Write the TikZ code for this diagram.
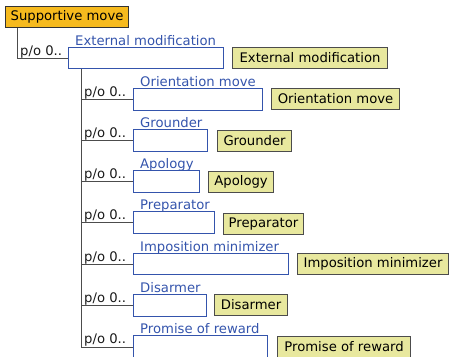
\documentclass[tikz,border=0pt]{standalone}
\usepackage{fontspec}
\setmainfont{DejaVu Sans}
\definecolor{rootfill}{RGB}{246,186,30}
\definecolor{rolec}{RGB}{52,84,172}
\definecolor{tagfill}{RGB}{232,232,158}
\begin{document}
\begin{tikzpicture}[x=1pt,y=-1pt,
  font=\fontsize{13.2}{15}\selectfont,
  rootbox/.style={draw=black!80, fill=rootfill, line width=1.1pt, anchor=north west, inner sep=0pt},
  slot/.style={draw=rolec, fill=white, line width=1.1pt, anchor=north west, inner sep=0pt},
  tagbox/.style={draw=black!70, fill=tagfill, line width=1.1pt, anchor=north west, inner sep=0pt},
  role/.style={text=rolec, anchor=base west, inner sep=0pt},
  card/.style={text=black!90, anchor=base west, inner sep=0pt},
  tree/.style={draw=black!70, line width=1pt}]
\useasboundingbox (0,0) rectangle (449,356);
% root
\node[rootbox, minimum width=123pt, minimum height=21pt] (root) at (5,6) {Supportive move};
% external modification
\node[slot, minimum width=155pt, minimum height=21pt] (ext) at (68,47) {};
\node[tagbox, minimum width=155pt, minimum height=21pt] (exttag) at (232,47) {External modification};
\node[role] (extrole) at (75,45) {External modification};
\node[card] (extcard) at (20,55) {p/o 0..};
\draw[tree] ([xshift=12pt]root.south west) |- (ext.west);
\coordinate (trunk) at ([xshift=13pt]ext.south west);
% children
\newcommand{\childrow}[8]{%
  \node[slot, minimum width=#3pt, minimum height=#4pt] (#1) at (133,#2) {};
  \node[tagbox, minimum width=#6pt, minimum height=21pt] (#1tag) at (#5,#7) {#8};
  \node[role] (#1role) at (140,#2-2) {#8};
  \node[card] (#1card) at (84,#2+8) {p/o 0..};
  \draw[tree] (trunk |- #1.west) -- (#1.west);
}
\childrow{orient}{88}{129}{22}{271}{128}{88}{Orientation move}
\childrow{ground}{129}{74}{22}{217}{74}{130}{Grounder}
\childrow{apol}{170}{66}{22}{208}{65}{171}{Apology}
\childrow{prep}{211}{81}{22}{223}{80}{213}{Preparator}
\childrow{impos}{253}{155}{21}{297}{151}{253}{Imposition minimizer}
\childrow{disarm}{294}{73}{22}{214}{73}{294}{Disarmer}
\childrow{promise}{335}{134}{23}{277}{133}{336}{Promise of reward}
\draw[tree] (trunk) -- (trunk |- promise.west);
\end{tikzpicture}
\end{document}
